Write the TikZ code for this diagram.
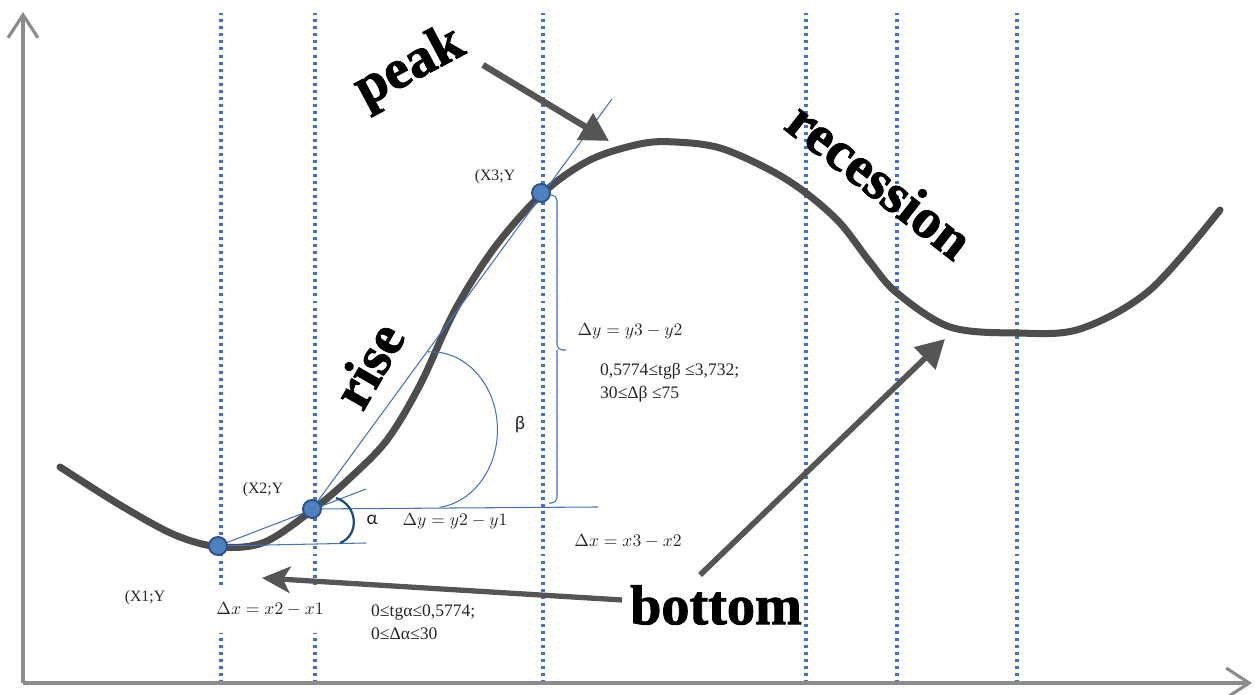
\documentclass[tikz,border=0pt]{standalone}
\usepackage{fontspec}
\setmainfont{Liberation Serif}
\newfontfamily\greekfont{Carlito}
\newfontfamily\fatfont[FakeBold=1.6]{Liberation Serif Bold}
\usetikzlibrary{arrows.meta}

\begin{document}
\begin{tikzpicture}[x=0.02cm,y=0.02cm,
  axis/.style={draw=AxisGray, line width=1.8pt, -{Straight Barb[length=13pt,width=17pt]}},
  gridline/.style={draw=LineBlue, line width=2pt, dash pattern=on 1.7pt off 2.3pt},
  curve/.style={draw=CurveGray, line width=4pt, line cap=round, line join=round},
  thinline/.style={draw=LineBlue, line width=0.6pt},
  pointer/.style={draw=ArrowGray, line width=3.6pt, -{Triangle[length=16pt,width=17pt]}},
  dot/.style={circle, fill=DotBlue, draw=DotEdge, line width=1.1pt, minimum size=0.36cm, inner sep=0pt},
  ptlabel/.style={font=\fontsize{9}{10}\selectfont, text=black!85},
  mathlabel/.style={font=\fontsize{10}{12}\selectfont, text=black!85},
  rangelabel/.style={font=\fontsize{10}{13}\selectfont, align=left, anchor=west, text=black!85},
  greeklabel/.style={font=\greekfont\fontsize{11}{12}\selectfont, text=black!85},
  bigword/.style={font=\fatfont\fontsize{32}{32}\selectfont}]
\definecolor{AxisGray}{HTML}{8C8C8C}
\definecolor{CurveGray}{HTML}{4D4D4D}
\definecolor{ArrowGray}{HTML}{555555}
\definecolor{LineBlue}{HTML}{4472C4}
\definecolor{DotBlue}{HTML}{4F81BD}
\definecolor{DotEdge}{HTML}{2F528F}
\definecolor{ArcBlue}{HTML}{1F4E79}
\useasboundingbox (0,0) rectangle (1255,695);
\foreach \gx in {221,315,543,806,897,1017}
  \draw[gridline] (\gx,12) -- (\gx,682);
\node[mathlabel, fill=white, minimum width=2.9cm, minimum height=0.96cm] (dxone) at (270,86) {$\Delta x = x2 - x1$};
\draw[axis] (23,12) -- (23,683);
\draw[axis] (23,12) -- (1252,12);
\coordinate (pone) at (218,149);
\coordinate (ptwo) at (312,186);
\coordinate (pthree) at (541,502);
\coordinate (hone) at (366,152);
\coordinate (chordend) at (366,206);
\coordinate (htwo) at (598,188);
\coordinate (tanend) at (612,596);
\draw[curve] plot[smooth, tension=0.55] coordinates {(60,228) (120,190) (175,160) (220,148) (265,153) (315,187) (350,217) (387,255) (420,310) (455,385) (495,448) (543,502) (590,535) (640,551) (675,553) (720,547) (770,525) (806,502) (840,472) (870,433) (897,402) (950,368) (1017,362) (1080,366) (1150,405) (1220,485)};
\draw[thinline] (pone) -- (hone);
\draw[thinline] (pone) -- (chordend);
\draw[thinline] (ptwo) -- (htwo);
\draw[thinline] (ptwo) -- (tanend);
\draw[draw=ArcBlue, line width=1.3pt] (336,197) .. controls (358,190) and (360,160) .. (340,152);
\draw[thinline] (428,343) arc[start angle=93, end angle=-83, x radius=66, y radius=78];
\draw[thinline, rounded corners=3] (549,500) -| (557,345) -- (566,345);
\draw[thinline, rounded corners=3] (557,345) |- (549,192);
\node[dot] (dotone) at (pone) {};
\node[dot] (dottwo) at (ptwo) {};
\node[dot] (dotthree) at (pthree) {};
\node[ptlabel] (xone) at (145,97) {(X1;Y};
\node[ptlabel] (xtwo) at (263,205) {(X2;Y};
\node[ptlabel] (xthree) at (495,518) {(X3;Y};
\node[greeklabel] (alpha) at (372,175) {α};
\node[greeklabel] (beta) at (520,270) {β};
\node[mathlabel] (dyone) at (455,174) {$\Delta y = y2 - y1$};
\node[mathlabel] (dytwo) at (630,364) {$\Delta y = y3 - y2$};
\node[mathlabel] (dxtwo) at (628,154) {$\Delta x = x3 - x2$};
\node[rangelabel] (betarange) at (594,312) {0,5774≤tgβ ≤3,732;\\30≤Δβ ≤75};
\node[rangelabel] (alpharange) at (365,73) {0≤tgα≤0,5774;\\0≤Δα≤30};
\node[bigword, rotate=28] (peak) at (410,627) {peak};
\node[bigword, rotate=60] (rise) at (368,330) {rise};
\node[bigword, rotate=-38] (recession) at (880,515) {recession};
\node[bigword] (bottom) at (716,90) {bottom};
\coordinate (peaktail) at (483,630);
\coordinate (peaktip) at (609,554);
\coordinate (lefttail) at (622,95);
\coordinate (lefttip) at (262,117);
\coordinate (righttail) at (700,120);
\coordinate (righttip) at (945,356);
\draw[pointer] (peaktail) -- (peaktip);
\draw[pointer, line width=3pt, -{Stealth[length=16pt,width=15pt,inset=4pt]}] (lefttail) -- (lefttip);
\draw[pointer, line width=3.2pt] (righttail) -- (righttip);
\end{tikzpicture}
\end{document}
